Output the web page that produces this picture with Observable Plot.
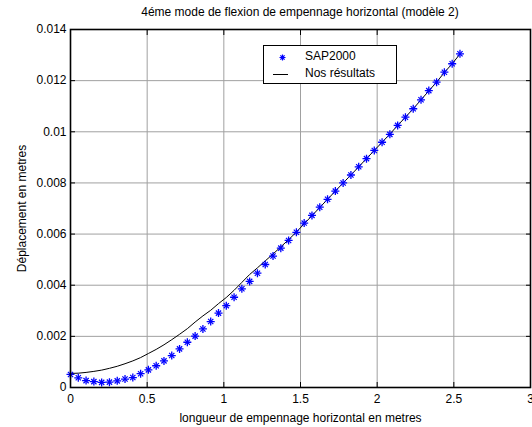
<!DOCTYPE html>
<html>
<head>
<meta charset="utf-8">
<script src="https://cdn.jsdelivr.net/npm/d3@7"></script>
<script src="https://cdn.jsdelivr.net/npm/@observablehq/plot@0.6"></script>
<style>
  body { margin: 0; background: #fff; font-family: "Liberation Sans", Arial, sans-serif; }
  #wrap { position: relative; width: 532px; height: 427px; overflow: hidden; }
  #title { position: absolute; left: 70px; width: 460px; top: 5px; text-align: center; font-size: 12px; line-height: 14px; color: #000; }
  #legend { position: absolute; left: 263px; top: 45px; width: 134px; height: 39px; box-sizing: border-box;
            border: 1px solid #000; background: #fff; font-size: 12px; color: #000; }
  #legend svg { position: absolute; left: 0; top: 0; }
  #legend span { position: absolute; left: 41px; white-space: nowrap; }
</style>
</head>
<body>
<div id="wrap">
  <div id="title">4éme mode de flexion de empennage horizontal (modèle 2)</div>
</div>
<script>
// Position along the horizontal tail (m)
const position = [
  0, 0.0508, 0.1016, 0.1524, 0.2032, 0.254, 0.3048, 0.3556, 0.4064, 0.4572,
  0.508, 0.5588, 0.6096, 0.6604, 0.7112, 0.762, 0.8128, 0.8636, 0.9144, 0.9652,
  1.016, 1.0668, 1.1176, 1.1684, 1.2192, 1.27, 1.3208, 1.3716, 1.4224, 1.4732,
  1.524, 1.5748, 1.6256, 1.6764, 1.7272, 1.778, 1.8288, 1.8796, 1.9304, 1.9812,
  2.032, 2.0828, 2.1336, 2.1844, 2.2352, 2.286, 2.3368, 2.3876, 2.4384, 2.4892, 2.54
];

// Displacement computed by SAP2000 (m)
const sap2000 = [
  0.00051, 0.00038, 0.00027, 0.00023, 0.00020, 0.00021, 0.00026, 0.00033, 0.00039, 0.00054,
  0.00069, 0.00085, 0.00104, 0.00125, 0.00151, 0.00177, 0.00201, 0.00229, 0.00258, 0.00291,
  0.00320, 0.00353, 0.00386, 0.00415, 0.00447, 0.00481, 0.00514, 0.00545, 0.00575, 0.00607,
  0.00643, 0.00673, 0.00705, 0.00736, 0.00768, 0.00800, 0.00831, 0.00863, 0.00895, 0.00927,
  0.00959, 0.00990, 0.01025, 0.01057, 0.01090, 0.01125, 0.01161, 0.01194, 0.01233, 0.01266, 0.01305
];

// Displacement from our own model (m)
const nosResultats = [
  0.00055, 0.00056, 0.00059, 0.00063, 0.00068, 0.00075, 0.00083, 0.00093, 0.00104, 0.00117,
  0.00133, 0.00149, 0.00167, 0.00187, 0.00208, 0.00230, 0.00256, 0.00280, 0.00302, 0.00328,
  0.00352, 0.00380, 0.00411, 0.00442, 0.00468, 0.00495, 0.00522, 0.00550, 0.00578, 0.00608,
  0.00640, 0.00672, 0.00704, 0.00736, 0.00768, 0.00800, 0.00831, 0.00863, 0.00895, 0.00927,
  0.00959, 0.00991, 0.01025, 0.01057, 0.01090, 0.01125, 0.01160, 0.01194, 0.01232, 0.01266, 0.01304
];

const xTicks = [0, 0.5, 1, 1.5, 2, 2.5, 3];
const xTickLabels = ["0", "0.5", "1", "1.5", "2", "2.5", "3"];
const yTicks = [0, 0.002, 0.004, 0.006, 0.008, 0.01, 0.012, 0.014];
const yTickLabels = ["0", "0.002", "0.004", "0.006", "0.008", "0.01", "0.012", "0.014"];

const seriesNames = ["SAP2000", "Nos résultats"];
const xTitle = "longueur de empennage horizontal en metres";
const yTitle = "Déplacement en metres";

const rows = position.map((x, i) => ({x, sap: sap2000[i], ours: nosResultats[i]}));

const blue = "#0000ff";
const gridColor = "#a0a0a0";

const xFmt = d => xTickLabels[xTicks.indexOf(d)];
const yFmt = d => yTickLabels[yTicks.indexOf(d)];

const chart = Plot.plot({
  width: 532,
  height: 427,
  marginLeft: 70,
  marginRight: 2,
  marginTop: 29,
  marginBottom: 40,
  style: {fontFamily: "'Liberation Sans', Arial, sans-serif", fontSize: "12px", color: "#000", background: "transparent", overflow: "visible"},
  x: {domain: [0, 3]},
  y: {domain: [0, 0.014]},
  marks: [
    Plot.gridX(xTicks, {stroke: gridColor, strokeOpacity: 1}),
    Plot.gridY(yTicks, {stroke: gridColor, strokeOpacity: 1}),
    Plot.line(rows, {x: "x", y: "ours", stroke: "#000", strokeWidth: 1}),
    // asterisk markers: a plus and a times symbol drawn on top of each other
    Plot.dot(rows, {x: "x", y: "sap", symbol: "plus", r: 2.7, stroke: blue, strokeWidth: 1.3}),
    Plot.dot(rows, {x: "x", y: "sap", symbol: "times", r: 2.5, stroke: blue, strokeWidth: 1.2}),
    Plot.axisX(xTicks, {anchor: "bottom", tickSize: -5, tickPadding: 12, tickFormat: xFmt,
      label: xTitle, labelAnchor: "center", labelOffset: 34, labelArrow: "none"}),
    Plot.axisX(xTicks, {anchor: "top", tickSize: -5, tickFormat: () => "", label: null}),
    Plot.axisY(yTicks, {anchor: "left", tickSize: -5, tickPadding: 9, tickFormat: yFmt,
      label: yTitle, labelAnchor: "center", labelOffset: 53, labelArrow: "none"}),
    Plot.axisY(yTicks, {anchor: "right", tickSize: -5, tickFormat: () => "", label: null}),
    Plot.frame({stroke: "#000", strokeWidth: 1.6})
  ]
});

const wrap = document.getElementById("wrap");
chart.style.position = "absolute";
chart.style.left = "0";
chart.style.top = "0";
wrap.insertBefore(chart, wrap.firstChild);

// Legend box, drawn over the plot area
const legend = document.createElement("div");
legend.id = "legend";
legend.innerHTML = `
  <svg width="132" height="37">
    <g stroke="${blue}" stroke-width="1.2" fill="none">
      <path d="M18.5,8.5v6M15.5,11.5h6M16.4,9.4l4.2,4.2M16.4,13.6l4.2,-4.2"/>
    </g>
    <path d="M9,28.5H24" stroke="#000" stroke-width="1"/>
  </svg>
  <span style="top:3px">${seriesNames[0]}</span>
  <span style="top:20px">${seriesNames[1]}</span>`;
wrap.appendChild(legend);
</script>
</body>
</html>
